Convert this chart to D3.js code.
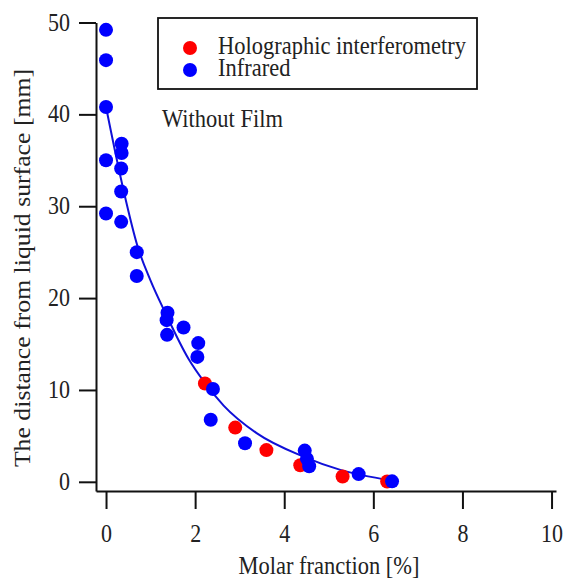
<!DOCTYPE html>
<html>
<head>
<meta charset="utf-8">
<script src="https://cdn.jsdelivr.net/npm/d3@7"></script>
<style>
  html, body { margin: 0; padding: 0; background: #fff; }
  svg { display: block; font-family: "Liberation Serif", "Times New Roman", serif; }
</style>
</head>
<body>
<div id="chart"></div>
<script>
// ---------- Data ----------
const holoX = [2.22, 2.90, 3.60, 4.36, 5.31, 6.31];
const holoY = [10.7, 5.9, 3.45, 1.8, 0.58, 0.03];

const irX = [0, 0, 0, 0, 0,
  0.35, 0.35, 0.34, 0.34, 0.34,
  0.69, 0.69,
  1.38, 1.36, 1.37, 1.74, 2.07, 2.05,
  2.40, 2.35, 3.12,
  4.46, 4.51, 4.56, 5.67, 6.42];
const irY = [49.2, 45.9, 40.8, 35.0, 29.2,
  36.8, 35.8, 34.1, 31.6, 28.3,
  25.0, 22.4,
  18.4, 17.6, 16.0, 16.8, 15.1, 13.6,
  10.1, 6.75, 4.2,
  3.4, 2.5, 1.7, 0.84, 0.05];

// fitted curve
const fitX = [0, 0.39, 0.71, 1.0, 1.33, 1.85, 2.2, 2.64, 3.38, 4.43, 5.26, 6.4];
const fitY = [40.8, 31.8, 25.6, 21.9, 18.4, 13.4, 10.9, 8.3, 5.3, 2.75, 1.3, 0.15];

const xTicks = [0, 2, 4, 6, 8, 10];
const yTicks = [0, 10, 20, 30, 40, 50];

const seriesNames = ["Holographic interferometry", "Infrared"];
const seriesColors = ["#ff0000", "#0000ff"];
const note = "Without Film";
const xTitle = "Molar franction [%]";
const yTitle = "The distance from liquid surface [mm]";

// ---------- Chart ----------
const width = 565, height = 582;
const stretch = 1.12;   // text in the source is a little taller than wide

const svg = d3.select("#chart").append("svg")
  .attr("width", width).attr("height", height);

svg.append("rect").attr("width", width).attr("height", height).attr("fill", "#fff");

const x = d3.scaleLinear().domain([-0.225, 10.1]).range([96, 556]);
const y = d3.scaleLinear().domain([-1.0, 50]).range([491, 22.5]);

// axes
const xAxis = svg.append("g")
  .attr("transform", `translate(0,${y(-1.0)})`)
  .call(d3.axisBottom(x).tickValues(xTicks).tickSize(18).tickSizeOuter(0));

const yAxis = svg.append("g")
  .attr("transform", `translate(${x(-0.225)},0)`)
  .call(d3.axisLeft(y).tickValues(yTicks).tickSize(17).tickSizeOuter(0));

[xAxis, yAxis].forEach(g => {
  g.select(".domain").attr("stroke", "#111").attr("stroke-width", 2);
  g.selectAll(".tick line").attr("stroke", "#111").attr("stroke-width", 2);
  g.attr("font-family", null).attr("font-size", null);
});

xAxis.selectAll(".tick text")
  .attr("y", 0).attr("dy", null)
  .attr("transform", `translate(0,51) scale(1,${stretch})`)
  .attr("font-size", 22).attr("fill", "#222");

yAxis.selectAll(".tick text")
  .attr("x", 0).attr("dy", null)
  .attr("transform", `translate(-26,7.5) scale(1,${stretch})`)
  .attr("font-size", 22).attr("fill", "#222");

// axis titles
svg.append("text")
  .attr("transform", `translate(329,574) scale(1,${stretch})`)
  .attr("text-anchor", "middle").attr("font-size", 22.5).attr("fill", "#222")
  .text(xTitle);

svg.append("text")
  .attr("transform", `translate(30,268) rotate(-90) scale(${stretch},1)`)
  .attr("text-anchor", "middle").attr("font-size", 23).attr("fill", "#222")
  .text(yTitle);

// fitted curve
const line = d3.line()
  .x(d => x(d[0])).y(d => y(d[1]))
  .curve(d3.curveMonotoneX);

svg.append("path")
  .datum(d3.zip(fitX, fitY))
  .attr("d", line)
  .attr("fill", "none")
  .attr("stroke", "#1010d8")
  .attr("stroke-width", 2);

// points
svg.append("g").selectAll("circle")
  .data(d3.zip(holoX, holoY))
  .join("circle")
  .attr("cx", d => x(d[0])).attr("cy", d => y(d[1]))
  .attr("r", 7).attr("fill", seriesColors[0]);

svg.append("g").selectAll("circle")
  .data(d3.zip(irX, irY))
  .join("circle")
  .attr("cx", d => x(d[0])).attr("cy", d => y(d[1]))
  .attr("r", 7).attr("fill", seriesColors[1]);

// legend
const legend = svg.append("g");
legend.append("rect")
  .attr("x", 158).attr("y", 18).attr("width", 319).attr("height", 71)
  .attr("fill", "#fff").attr("stroke", "#111").attr("stroke-width", 1.8);

const item = legend.selectAll(".item")
  .data(seriesNames)
  .join("g")
  .attr("class", "item")
  .attr("transform", (d, i) => `translate(0,${48 + i * 22})`);

item.append("circle").attr("cx", 190).attr("cy", 0).attr("r", 7)
  .attr("fill", (d, i) => seriesColors[i]);
item.append("text")
  .attr("transform", `translate(218,6) scale(1,${stretch})`)
  .attr("font-size", 22.5).attr("fill", "#222")
  .text(d => d);

svg.append("text")
  .attr("transform", `translate(162,127) scale(1,${stretch})`)
  .attr("font-size", 22.5).attr("fill", "#222")
  .text(note);
</script>
</body>
</html>
